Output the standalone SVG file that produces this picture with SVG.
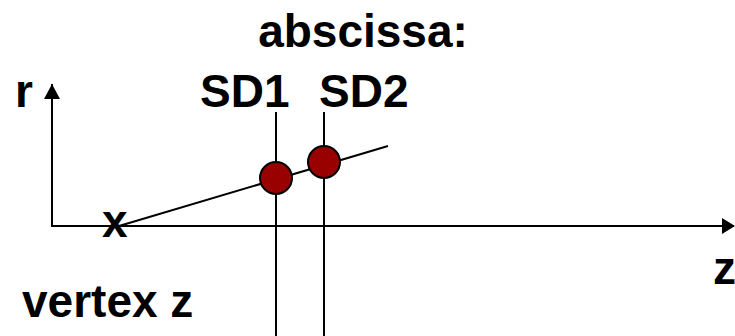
<svg xmlns="http://www.w3.org/2000/svg" width="735" height="336" viewBox="0 0 735 336">
  <defs>
    <style>
      .lbl { font-family: "Liberation Sans", Arial, sans-serif; font-weight: bold; font-size: 46px; fill: #000; }
      .ln { stroke: #000; stroke-width: 2; fill: none; }
      .hit { fill: #990000; stroke: #000; stroke-width: 2; }
    </style>
    <marker id="arr" viewBox="0 0 10 10" refX="10" refY="5" markerWidth="8" markerHeight="8" markerUnits="userSpaceOnUse" orient="auto">
      <path d="M0,0 L10,5 L0,10 Z" fill="#000"/>
    </marker>
  </defs>
  <rect width="735" height="336" fill="#fff"/>

  <g id="connectors">
    <!-- axes -->
    <line id="axis-r" class="ln" x1="52" y1="227" x2="52" y2="84"/>
    <path d="M44,99 L52,84 L60,99 Z" fill="#000"/>
    <line id="axis-z" class="ln" x1="51" y1="226" x2="734" y2="226"/>
    <path d="M722,218 L735,226 L722,234 Z" fill="#000"/>
    <!-- track from vertex -->
    <line id="track" class="ln" x1="119" y1="226" x2="388" y2="146"/>
    <!-- detector planes -->
    <line id="plane-sd1" class="ln" x1="276" y1="112" x2="276" y2="336"/>
    <line id="plane-sd2" class="ln" x1="324" y1="112" x2="324" y2="336"/>
  </g>

  <g id="hit-sd1"><circle class="hit" cx="276" cy="178" r="16"/></g>
  <g id="hit-sd2"><circle class="hit" cx="324" cy="162" r="16"/></g>

  <g id="labels">
    <text class="lbl" x="363" y="47" text-anchor="middle">abscissa:</text>
    <text class="lbl" x="15" y="107">r</text>
    <text class="lbl" x="200" y="107">SD1</text>
    <text class="lbl" x="319" y="107">SD2</text>
    <text class="lbl" x="102" y="237">x</text>
    <text class="lbl" x="713" y="284">z</text>
    <text class="lbl" x="22" y="317">vertex z</text>
  </g>
</svg>
